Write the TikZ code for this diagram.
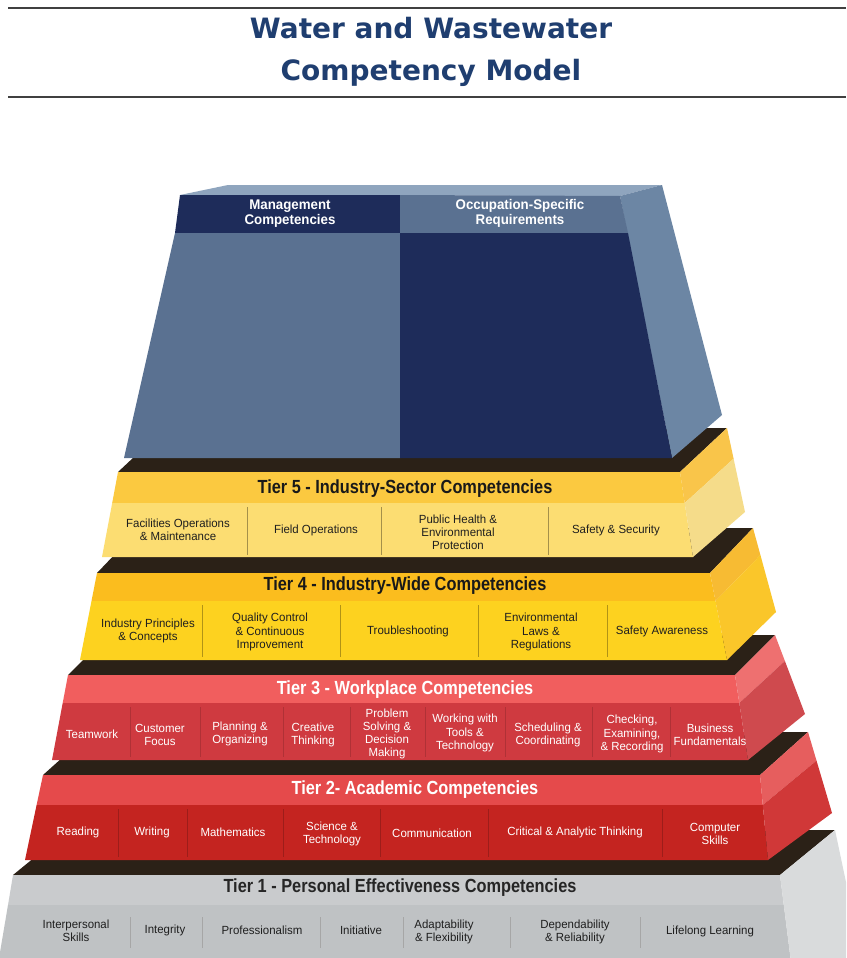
\documentclass[tikz,border=0pt]{standalone}
\usepackage{fontspec}
\setmainfont{Liberation Sans}
\newfontfamily\nar[FakeStretch=0.97]{Liberation Sans}
\newfontfamily\narb[FakeStretch=0.86]{Liberation Sans}
\newfontfamily\hdrfont[FakeStretch=0.95]{Liberation Sans}
\newfontfamily\ttlfont{DejaVu Sans}
\definecolor{darkband}{HTML}{2B2117}
\definecolor{navy}{HTML}{1E2C5A}
\definecolor{steel}{HTML}{5A7191}
\definecolor{topface}{HTML}{8FA5BE}
\definecolor{sideblue}{HTML}{6C86A4}
\definecolor{titleblue}{HTML}{1F3E70}
\definecolor{tfivet}{HTML}{FBC940}
\definecolor{tfivei}{HTML}{FCDD72}
\definecolor{tfivesu}{HTML}{F9C54A}
\definecolor{tfivesl}{HTML}{F5DC8A}
\definecolor{tfourt}{HTML}{FBBD1E}
\definecolor{tfouri}{HTML}{FDD21F}
\definecolor{tfoursu}{HTML}{F7BB33}
\definecolor{tfoursl}{HTML}{FAC62A}
\definecolor{tthreet}{HTML}{F15E5E}
\definecolor{tthreei}{HTML}{CF3A40}
\definecolor{tthreesu}{HTML}{EE7070}
\definecolor{tthreesl}{HTML}{CF4A4E}
\definecolor{ttwot}{HTML}{E54A4B}
\definecolor{ttwoi}{HTML}{C42420}
\definecolor{ttwosu}{HTML}{E65E5E}
\definecolor{ttwosl}{HTML}{D03838}
\definecolor{tonet}{HTML}{C9CBCD}
\definecolor{tonei}{HTML}{BFC2C4}
\definecolor{toneside}{HTML}{D9DBDC}
\tikzset{
  itemb/.style={font=\nar\fontsize{11.8}{13.2}\selectfont, align=center, inner sep=0pt, text=black!88},
  itemw/.style={itemb, text=white},
  tiert/.style={font=\narb\bfseries\fontsize{19}{21}\selectfont, inner sep=0pt},
  hdr/.style={font=\hdrfont\bfseries\fontsize{14}{15}\selectfont, align=center, inner sep=0pt, text=white},
  divline/.style={line width=0.8pt},
  rule/.style={line width=1.6pt, draw=black!75}
}
\begin{document}
\begin{tikzpicture}[x=1pt,y=-1pt]
\useasboundingbox (0,0) rectangle (846,958);
\fill[white] (0,0) rectangle (846,958);
% title
\draw[rule] (8,8) -- (846,8);
\draw[rule, line width=2pt] (8,97) -- (846,97);
\node[font=\ttlfont\bfseries\fontsize{28}{32}\selectfont, text=titleblue] (t1) at (431,28) {Water and Wastewater};
\node[font=\ttlfont\bfseries\fontsize{28}{32}\selectfont, text=titleblue] (t2) at (431,73) {Competency Model};
\begin{scope}
\clip (0,0) rectangle (846,958);
% ---------- Tier 1 ----------
\fill[darkband] (13,875) -- (780,875) -- (835,830) -- (68,830) -- cycle;
\fill[tonet] (13,875) -- (780,875) -- (783.8,905) -- (8,905) -- cycle;
\fill[tonei] (8,905) -- (783.8,905) -- (792,970) -- (-3,970) -- cycle;
\fill[toneside] (780,875) -- (835,830) -- (862,958) -- (792,970) -- cycle;
\end{scope}
\node[tiert, text=black!85] (n1) at (400,888) {Tier 1 - Personal Effectiveness Competencies};
\foreach \x in {130,202,320,403,510,640} \draw[divline, draw=black!35] (\x,917) -- (\x,948);
\node[itemb] (a1) at (76,931) {Interpersonal\\Skills};
\node[itemb] (a2) at (165,930) {Integrity};
\node[itemb] (a3) at (262,930) {Professionalism};
\node[itemb] (a4) at (361,930) {Initiative};
\node[itemb] (a5) at (444,932) {Adaptability\\\& Flexibility};
\node[itemb] (a6) at (575,932) {Dependability\\\& Reliability};
\node[itemb] (a7) at (710,931) {Lifelong Learning};
% ---------- Tier 2 ----------
\fill[darkband] (43,775) -- (760,775) -- (808,732) -- (91,732) -- cycle;
\fill[ttwot] (43,775) -- (760,775) -- (762.8,805) -- (36.6,805) -- cycle;
\fill[ttwoi] (36.6,805) -- (762.8,805) -- (768,860) -- (25,860) -- cycle;
\fill[ttwosu] (760,775) -- (808,732) -- (816.5,760.6) -- (762.8,805) -- cycle;
\fill[ttwosl] (762.8,805) -- (816.5,760.6) -- (832,813) -- (768,860) -- cycle;
\node[tiert, text=white] (n2) at (415,790) {Tier 2- Academic Competencies};
\foreach \x in {118,187,283,380,488,662} \draw[divline, draw=ttwoi!80!black] (\x,809) -- (\x,857);
\node[itemw] (b1) at (78,832) {Reading};
\node[itemw] (b2) at (152,832) {Writing};
\node[itemw] (b3) at (233,832) {Mathematics};
\node[itemw] (b4) at (332,834) {Science \&\\Technology};
\node[itemw] (b5) at (432,833) {Communication};
\node[itemw] (b6) at (575,832) {Critical \& Analytic Thinking};
\node[itemw] (b7) at (715,834) {Computer\\Skills};
% ---------- Tier 3 ----------
\fill[darkband] (68,675) -- (735,675) -- (775,635) -- (108,635) -- cycle;
\fill[tthreet] (68,675) -- (735,675) -- (739.3,703) -- (62.7,703) -- cycle;
\fill[tthreei] (62.7,703) -- (739.3,703) -- (748,760) -- (52,760) -- cycle;
\fill[tthreesu] (735,675) -- (775,635) -- (784.9,661) -- (739.3,703) -- cycle;
\fill[tthreesl] (739.3,703) -- (784.9,661) -- (805,714) -- (748,760) -- cycle;
\node[tiert, text=white] (n3) at (405,690) {Tier 3 - Workplace Competencies};
\foreach \x in {130,200,283,350,425,505,592,670} \draw[divline, draw=tthreei!85!black] (\x,707) -- (\x,757);
\node[itemw] (c1) at (92,734) {Teamwork};
\node[itemw] (c2) at (160,735) {Customer\\Focus};
\node[itemw] (c3) at (240,734) {Planning \&\\Organizing};
\node[itemw] (c4) at (313,735) {Creative\\Thinking};
\node[itemw] (c5) at (387,734) {Problem\\Solving \&\\Decision\\Making};
\node[itemw] (c6) at (465,733) {Working with\\Tools \&\\Technology};
\node[itemw] (c7) at (548,735) {Scheduling \&\\Coordinating};
\node[itemw] (c8) at (632,734) {Checking,\\Examining,\\\& Recording};
\node[itemw] (c9) at (710,735) {Business\\Fundamentals};
% ---------- Tier 4 ----------
\fill[darkband] (97,573) -- (710,573) -- (753,528) -- (140,528) -- cycle;
\fill[tfourt] (97,573) -- (710,573) -- (715.5,601) -- (91.5,601) -- cycle;
\fill[tfouri] (91.5,601) -- (715.5,601) -- (727,660) -- (80,660) -- cycle;
\fill[tfoursu] (710,573) -- (753,528) -- (760.4,555) -- (715.5,601) -- cycle;
\fill[tfoursl] (715.5,601) -- (760.4,555) -- (776,612) -- (727,660) -- cycle;
\node[tiert, text=black!90] (n4) at (405,586) {Tier 4 - Industry-Wide Competencies};
\foreach \x in {202,340,478,607} \draw[divline, draw=tfouri!70!black] (\x,605) -- (\x,657);
\node[itemb] (d1) at (148,631) {Industry Principles\\\& Concepts};
\node[itemb] (d2) at (270,632) {Quality Control\\\& Continuous\\Improvement};
\node[itemb] (d3) at (408,631) {Troubleshooting};
\node[itemb] (d4) at (541,632) {Environmental\\Laws \&\\Regulations};
\node[itemb] (d5) at (662,631) {Safety Awareness};
% ---------- Tier 5 ----------
\fill[darkband] (118,472) -- (680,472) -- (727,428) -- (165,428) -- cycle;
\fill[tfivet] (118,472) -- (680,472) -- (684.7,503) -- (112.2,503) -- cycle;
\fill[tfivei] (112.2,503) -- (684.7,503) -- (693,557) -- (102,557) -- cycle;
\fill[tfivesu] (680,472) -- (727,428) -- (733.6,458.7) -- (684.7,503) -- cycle;
\fill[tfivesl] (684.7,503) -- (733.6,458.7) -- (745,512) -- (693,557) -- cycle;
\node[tiert, text=black!90] (n5) at (405,489) {Tier 5 - Industry-Sector Competencies};
\foreach \x in {247,381,548} \draw[divline, draw=tfivei!65!black] (\x,507) -- (\x,555);
\node[itemb] (e1) at (178,530) {Facilities Operations\\\& Maintenance};
\node[itemb] (e2) at (316,530) {Field Operations};
\node[itemb] (e3) at (458,532) {Public Health \&\\Environmental\\Protection};
\node[itemb] (e4) at (616,530) {Safety \& Security};
% ---------- Top block ----------
\fill[topface] (180,195) -- (620,196) -- (662,185) -- (228,185) -- cycle;
\fill[sideblue] (620,196) -- (662,185) -- (722,415) -- (672,458) -- cycle;
\fill[navy] (180,195) -- (400,195) -- (400,233) -- (175,233) -- cycle;
\fill[steel] (400,195) -- (620,196) -- (628,233) -- (400,233) -- cycle;
\fill[steel] (175,233) -- (400,233) -- (400,458) -- (124,458) -- cycle;
\fill[navy] (400,233) -- (628,233) -- (672,458) -- (400,458) -- cycle;
\node[hdr] (m1) at (290,214) {Management\\Competencies};
\node[hdr] (m2) at (520,213) {Occupation-Specific\\Requirements};
\end{tikzpicture}
\end{document}
